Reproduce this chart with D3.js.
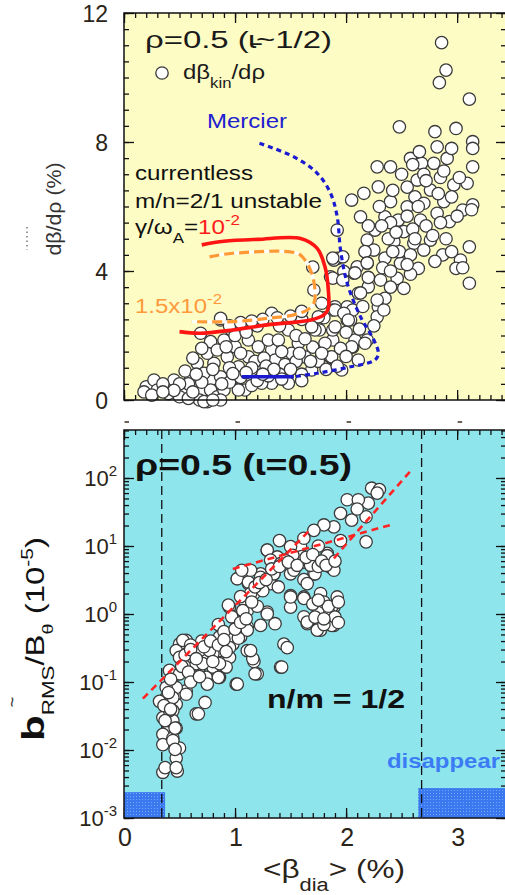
<!DOCTYPE html>
<html><head><meta charset="utf-8">
<script src="https://cdn.jsdelivr.net/npm/d3@7"></script>
<style>
body{margin:0;background:#fff}
svg{display:block}
text{font-family:"Liberation Sans",Arial,Helvetica,sans-serif}
</style>
</head><body>
<svg id="c" width="505" height="895"></svg>
<script>
// ---------------- data (top panel: dβ/dρ vs <β_dia>) ----------------
const kinPoints = [
[2.86,11.08],[2.90,10.23],[2.84,9.84],[3.11,9.33],[2.48,8.47],[2.80,8.32],[2.99,8.42],[3.14,8.01],[2.82,7.85],[3.14,7.80],
[2.28,7.23],[2.40,7.23],[2.58,7.49],[2.68,7.34],[2.79,7.34],[2.91,7.49],[3.14,7.23],[2.29,6.61],[2.16,6.41],[2.05,6.20],
[2.64,6.82],[2.76,6.51],[2.97,6.67],[3.09,6.72],[2.40,6.15],[2.55,5.99],[2.88,6.15],[3.14,6.05],[2.13,5.68],[2.35,5.68],
[2.47,5.58],[2.67,5.58],[2.82,5.79],[2.93,5.53],[3.05,5.89],[1.92,5.27],[2.26,5.27],[2.52,5.22],[2.76,4.96],[2.19,4.96],
[2.43,4.91],[2.61,4.86],[2.25,4.65],[2.70,4.65],[3.11,4.75],[1.92,4.39],[2.19,4.24],[2.49,4.24],[2.65,4.08],[2.87,4.50],
[3.03,4.34],[2.99,4.08],[3.11,3.62],[2.07,3.93],[2.31,3.72],[2.46,3.77],[2.52,3.46],[2.20,3.51],[2.35,3.15],[2.29,2.89],
[2.11,3.31],[1.89,4.34],[1.86,3.82],[1.98,3.98],[2.10,4.13],[2.01,2.89],[1.90,2.89],[2.04,2.48],[2.28,2.58],
[2.55,6.60],[2.62,6.30],[2.70,6.10],[2.85,6.90],[2.95,6.30],[3.00,5.70],[2.60,5.30],[2.72,5.40],[2.38,5.00],[2.48,4.60],
[2.58,4.50],[2.35,4.40],[2.42,6.50],[2.70,7.00],[2.78,5.10],[2.90,5.00],[2.55,5.70],[2.30,6.00],[2.20,5.40],[2.33,4.10],
[2.58,3.90],[2.17,4.60],[2.50,7.00],[2.66,7.70],[3.02,6.90],[3.13,5.90],[2.95,7.80],[2.40,5.50],
[1.97,4.44],[1.88,4.40],[1.88,3.78],[1.97,3.72],[1.70,4.12],[2.08,3.94],[2.19,4.25],[2.13,3.32],[2.28,3.10],[2.34,2.79],
[2.01,2.48],[1.88,2.79],[2.06,2.79],[2.19,1.86],[2.06,1.64],[1.88,1.86],[1.86,1.33],[1.70,1.64],[1.76,2.17],[1.88,2.17],
[1.71,3.41],[1.78,3.00],[1.80,2.55],
[0.20,0.41],[0.27,0.62],[0.30,0.31],[0.39,0.41],[0.45,0.62],[0.53,0.31],[0.60,0.72],[0.66,1.14],[0.63,0.41],[0.71,0.31],
[0.78,0.62],[0.72,0.83],[0.78,0.31],[0.84,0.10],[0.90,0.31],[0.87,0.72],[0.81,1.14],[0.75,1.45],[0.78,1.81],[0.90,1.86],
[0.87,2.48],[0.97,2.17],[0.84,1.55],[0.93,1.34],[1.00,1.65],[1.03,1.03],[0.97,0.62],[1.09,0.31],[1.12,1.86],[1.12,1.34],
[1.21,1.65],[1.22,0.98],[1.33,1.55],[1.30,1.86],[1.33,2.69],[1.39,1.86],[1.36,1.24],[1.33,0.52],[1.48,0.52],[1.48,2.17],
[1.51,1.45],[1.57,1.76],[1.63,1.34],[1.69,0.93],[1.72,2.17],[1.81,1.76],[1.87,1.34],[1.90,2.27],[1.90,2.79],[1.75,2.58],
[1.98,2.69],[2.02,2.48],[2.08,1.86],[2.05,1.65],[2.17,1.76],[2.11,1.24],[1.96,0.93],[1.69,2.27],[0.69,2.07],[0.87,2.53],
[1.03,0.31],[1.15,0.72],[1.24,0.52],[0.87,0.00],
[0.55,0.90],[0.62,0.15],[0.68,0.00],[0.75,-0.05],[0.58,0.50],[0.95,1.00],[1.05,1.45],[1.18,1.20],[1.26,1.30],[1.42,1.50],
[1.45,1.10],[1.55,1.20],[1.60,0.80],[1.40,0.80],[1.30,0.75],[1.00,2.00],[1.10,2.10],[1.20,2.30],[1.40,2.30],[1.55,2.00],
[1.63,1.90],[0.95,0.55],[1.15,0.45],[0.80,0.95],[0.70,1.60],[0.62,1.30],[0.92,1.65],[1.75,1.20],[1.82,0.95],[1.60,2.50],
[0.50,0.10],[0.40,0.20],[0.58,0.05],[0.18,0.25],[0.25,0.15],[1.05,0.70],[1.20,0.60],[0.35,0.50],
[0.95,2.30],[1.05,2.40],[1.15,2.45],[1.25,2.50],[1.38,2.55],[1.50,2.60],[1.60,2.75],[1.15,1.00],[1.28,1.05],[1.35,0.95],
[1.50,0.95],[1.58,1.45],[1.68,1.20],[1.78,1.45],[1.95,1.60],[2.00,2.10],[2.12,2.20],[1.92,1.05],[2.00,1.35],[1.10,0.85],
[0.98,0.82],[0.88,0.50],[0.70,0.55],[0.65,0.80],[0.50,0.50],[0.45,0.30],[0.35,0.25],[0.72,-0.05],[0.80,0.00],[0.62,0.25],
[1.25,0.80],[1.42,0.65],[1.60,0.60],[2.40,4.00],[2.55,4.20],[2.62,5.00],[2.85,5.50],[2.45,5.20],[2.65,6.00],[2.83,6.40],
[2.72,6.80],[2.60,7.30],[2.88,7.10],[2.32,5.40],[2.42,4.60],[2.95,4.60],[3.05,4.10],[2.80,4.30],[2.20,3.80],[2.40,3.50],
[2.15,2.90],[2.25,2.30]
];
const redCurve = [[0.70,4.81],[0.90,4.92],[1.20,4.98],[1.59,5.01],[1.74,4.70],[1.81,4.13],[1.84,3.41],[1.84,2.84],[1.80,2.64],
[1.68,2.48],[1.29,2.33],[0.98,2.17],[0.68,2.07],[0.50,2.12]];
const orangeCurve = [[0.77,4.44],[0.98,4.55],[1.56,4.55],[1.63,4.34],[1.69,3.93],[1.72,3.41],[1.71,3.00],[1.65,2.79],
[1.53,2.64],[1.29,2.53],[0.98,2.43],[0.61,2.43]];
const mercierDotted = [[1.22,7.96],[1.53,7.54],[1.74,7.03],[1.86,6.41],[1.92,5.68],[1.95,4.65],[2.01,3.62],[2.13,2.58],
[2.25,1.86],[2.29,1.45],[2.26,1.24],[2.04,1.03],[1.74,0.83],[1.53,0.72]];
const mercierSolid = [[1.06,0.72],[1.53,0.72]];
const topYTicks = [0,4,8,12];
const xTicks = [0,1,2,3];

// ---------------- data (bottom panel: b_RMS/B_θ vs <β_dia>) ----------------
const bRmsPoints = [
[2.23,70.8],[2.30,67.6],[2.01,47.9],[2.20,42.7],[2.11,47.9],[1.95,30.2],[2.05,24],[2.18,26.9],[1.89,19.1],[2.18,11.5],
[1.80,20.4],[1.71,17],[1.59,9.8],[1.29,8.7],[1.38,6.9],[1.50,6.9],[1.53,5.5],[1.71,6.2],[1.83,7.8],[1.71,3.9],
[1.86,4.9],[1.50,3.9],[1.62,3.2],[1.23,3.9],[1.11,4.4],[1.02,3.3],[1.12,2.8],[1.35,3.9],[1.32,2.8],[1.17,2.0],
[1.08,1.6],[1.29,1.07],[1.23,0.68],[1.36,0.72],[1.50,1.86],[1.50,1.26],[1.62,1.78],[1.77,2.0],[1.77,1.12],[1.68,0.81],
[1.77,0.58],[1.89,1.26],[1.89,0.68],[1.92,1.78],[1.62,0.91],[1.65,0.72],[0.95,1.26],[0.98,0.91],[1.11,1.12],[1.11,0.65],
[1.05,0.46],[0.98,0.36],[0.86,0.29],[0.80,0.36],[0.74,0.23],[0.95,0.23],[1.11,0.29],[1.17,0.20],[0.92,0.166],[0.80,0.166],
[0.68,0.166],[0.62,0.117],[0.74,0.117],[0.86,0.117],[1.01,0.093],[1.20,0.132],[0.56,0.186],[0.50,0.36],[0.47,0.29],[0.56,0.41],
[0.68,0.29],[0.62,0.23],[0.41,0.148],[0.44,0.093],[0.47,0.066],[0.38,0.059],[0.32,0.052],[0.47,0.047],[0.56,0.074],[0.44,0.038],
[0.44,0.027],[0.35,0.030],[0.47,0.021],[0.38,0.018],[0.65,0.034],[0.73,0.050],[0.35,0.017],[0.44,0.015],[0.35,0.012],[0.50,0.0107],
[0.47,0.0076],[0.35,0.0047],[0.48,0.0049],[0.53,0.148],[0.65,0.186],[0.80,0.26],[0.98,0.46],[0.86,0.186],[1.44,0.36],[1.47,0.32],
[1.41,0.166],
[1.02,3.3],[1.12,2.95],[1.14,4.4],[1.29,8.7],[1.23,3.47],[1.35,3.9],[1.39,2.5],[1.50,9.8],[1.53,4.4],[1.71,6.6],
[1.72,3.9],[1.83,7.2],[1.89,4.4],[1.65,2.8],[1.50,1.78],[1.62,1.7],[1.75,1.12],[1.77,0.81],[1.74,0.58],[1.87,1.26],
[1.87,0.68],[1.65,0.76],[1.14,2.0],[1.07,1.12],[1.29,1.0],[0.94,1.35],[0.97,0.91],[1.11,0.58],[1.03,0.44],[0.86,0.46],
[0.95,0.32],[0.77,0.29],[0.53,0.41],[0.50,0.23],[0.71,0.186],[1.16,0.22],[1.14,0.29],[1.42,0.166],[1.18,0.132],[1.02,0.093],
[0.85,0.117],[0.75,0.093],[0.62,0.123],[0.50,0.132],[0.47,0.083],[0.38,0.083],[0.44,0.059],[0.56,0.066],[0.67,0.034],[0.41,0.038],
[0.46,0.021],[0.37,0.027],[0.44,0.0138],[0.46,0.0102],[0.37,0.0055],[0.47,0.0055],[1.06,4.4],[1.32,6.2],[1.41,5.5],
[1.55,6.0],[1.58,6.5],[1.62,5.8],[1.66,6.3],[1.60,7.0],[1.52,7.3],[1.45,6.2],[1.68,5.2],[1.75,5.0],[1.20,1.3],
[1.25,2.2],[1.05,1.8],[0.85,0.7],[0.90,0.55],[0.70,0.4],[0.60,0.35],[1.80,1.5],[1.85,1.0],[1.80,0.7],[1.90,0.9],
[1.70,1.4],[1.40,12],[1.62,13],[1.75,10],[1.95,12],[2.10,35],[2.28,60],
[0.55,0.25],[0.60,0.30],[0.65,0.22],[0.72,0.33],[0.78,0.40],[0.85,0.35],[0.90,0.42],[0.92,0.28],[1.00,0.60],[1.05,0.75],
[1.10,0.85],[1.15,1.5],[1.18,2.5],[1.22,2.9],[1.28,3.2],[1.33,4.6],[1.40,5.0],[1.48,5.8],[1.56,5.2],[1.64,6.8],
[1.70,7.5],[1.78,6.0],[1.82,5.2],[1.90,6.0],[1.72,0.9],[1.80,0.85],[1.84,1.3],[1.75,1.6],[1.93,1.5],[1.93,0.75],
[0.52,0.17],[0.58,0.14],[0.60,0.10],[0.68,0.12],[0.80,0.20],[0.42,0.11],[0.40,0.07],[0.36,0.045],[0.42,0.04]
];
const fitLines = [
  [[0.17,0.057],[1.69,18.2]],
  [[0.98,4.6],[2.40,20.4]],
  [[1.89,6.6],[2.60,138]]
];
const thresholds = [0.34, 2.68];
const disappearRanges = [[0,0.37,0.0024],[2.65,3.44,0.00275]];
const botYTicks = [1e-3,1e-2,1e-1,1,10,100];
const botYExp = ["-3","-2","-1","0","1","2"];

// ---------------- drawing ----------------
const svg = d3.select("#c");
const x = d3.scaleLinear().domain([0,3.44]).range([124,506]);
const yT = d3.scaleLinear().domain([0,12]).range([400,13]);
const yB = d3.scaleLog().domain([1e-3,508]).range([818,430]);
const R = 6.2;

const defs = svg.append("defs");
const pat = defs.append("pattern").attr("id","dots").attr("width",3).attr("height",3).attr("patternUnits","userSpaceOnUse");
pat.append("rect").attr("width",3).attr("height",3).attr("fill","#3a78f0");
pat.append("rect").attr("x",1).attr("y",1).attr("width",1).attr("height",1).attr("fill","#7aa6f8");

// backgrounds
svg.append("rect").attr("x",x(0)).attr("y",yT(12)).attr("width",x(3.44)-x(0)).attr("height",yT(0)-yT(12)).attr("fill","#fdfcc4");
svg.append("rect").attr("x",x(0)).attr("y",yB(508)).attr("width",x(3.44)-x(0)).attr("height",yB(1e-3)-yB(508)).attr("fill","#8fe5ec");

const xMinor = d3.range(0,35).map(i=>i/10);
const topYMinor = d3.range(0,25).map(i=>i/2);
const logMinor = [];
[-3,-2,-1,0,1,2].forEach(e=>{for(let k=1;k<=9;k++){const v=k*Math.pow(10,e); if(v<=508) logMinor.push(v);}});

function axis(gen, tx, ty, vals, size){
  svg.append("g").attr("transform",`translate(${tx},${ty})`)
    .call(gen.tickValues(vals).tickSize(size).tickSizeOuter(0).tickFormat(""))
    .call(g=>g.select(".domain").remove())
    .selectAll("line").attr("stroke","#111").attr("stroke-width",1.3);
}
// top panel ticks
axis(d3.axisLeft(yT),124,0,topYMinor,-5);
axis(d3.axisLeft(yT),124,0,topYTicks,-10);
axis(d3.axisRight(yT),506,0,topYMinor,-5);
axis(d3.axisRight(yT),506,0,topYTicks,-10);
axis(d3.axisTop(x),0,13,xMinor,-5);
axis(d3.axisTop(x),0,13,xTicks,-10);
axis(d3.axisBottom(x),0,400,xMinor,-5);
axis(d3.axisBottom(x),0,400,xTicks,-10);
// bottom panel ticks
axis(d3.axisLeft(yB),124,0,logMinor,-5);
axis(d3.axisLeft(yB),124,0,botYTicks,-10);
axis(d3.axisRight(yB),506,0,logMinor,-5);
axis(d3.axisRight(yB),506,0,botYTicks,-10);
axis(d3.axisTop(x),0,430,xMinor,-5);
axis(d3.axisTop(x),0,430,xTicks,-10);
axis(d3.axisBottom(x),0,818,xMinor,-5);
axis(d3.axisBottom(x),0,818,xTicks,-10);

// ---- top panel marks ----
svg.append("g").selectAll("circle").data(kinPoints).join("circle")
  .attr("cx",d=>x(d[0])).attr("cy",d=>yT(d[1])).attr("r",R)
  .attr("fill","#fff").attr("stroke","#3a3a3a").attr("stroke-width",1.3);

const lineT = d3.line().x(d=>x(d[0])).y(d=>yT(d[1])).curve(d3.curveCatmullRom.alpha(0.5));
svg.append("path").attr("d",lineT(orangeCurve)).attr("fill","none").attr("stroke","#fff").attr("stroke-width",3.2);
svg.append("path").attr("d",lineT(orangeCurve)).attr("fill","none").attr("stroke","#ff9933").attr("stroke-width",3.2).attr("stroke-dasharray","10,5");
svg.append("path").attr("d",lineT(redCurve)).attr("fill","none").attr("stroke","#ff1414").attr("stroke-width",3.6);
svg.append("path").attr("d",lineT(mercierDotted)).attr("fill","none").attr("stroke","#1a1ad0").attr("stroke-width",3.2).attr("stroke-dasharray","5,4");
svg.append("path").attr("d",d3.line().x(d=>x(d[0])).y(d=>yT(d[1]))(mercierSolid)).attr("fill","none").attr("stroke","#1a1ad0").attr("stroke-width",3.4);

// frames
svg.append("rect").attr("x",124).attr("y",13).attr("width",382).attr("height",387).attr("fill","none").attr("stroke","#111").attr("stroke-width",1.5);

// top tick labels
svg.append("g").selectAll("text").data(topYTicks).join("text")
  .attr("x",108).attr("y",d=>yT(d)+9).attr("text-anchor","end").attr("font-size",23).attr("fill","#2a2418").text(d=>d);
// cut-off label marks under top panel
svg.append("g").selectAll("line").data(xTicks).join("line")
  .attr("x1",d=>x(d)+0.5).attr("x2",d=>x(d)+5).attr("y1",422).attr("y2",422).attr("stroke","#4a3a2a").attr("stroke-width",1.6);

// top texts
svg.append("text").attr("x",145).attr("y",48).attr("font-size",24).attr("fill","#1a1a1a")
  .attr("textLength",187).attr("lengthAdjust","spacingAndGlyphs").text("ρ=0.5 (ɩ̵~1/2)");
svg.append("circle").attr("cx",162).attr("cy",73).attr("r",R).attr("fill","#fff").attr("stroke","#3a3a3a").attr("stroke-width",1.3);
{
  const t = svg.append("text").attr("x",183).attr("y",79).attr("font-size",20).attr("fill","#1a1a1a")
    .attr("textLength",82).attr("lengthAdjust","spacingAndGlyphs");
  t.append("tspan").text("dβ");
  t.append("tspan").attr("font-size",14).attr("dy",9).text("kin");
  t.append("tspan").attr("dy",-9).text("/dρ");
}
svg.append("text").attr("x",207).attr("y",128).attr("font-size",20).attr("fill","#2020d0")
  .attr("textLength",80).attr("lengthAdjust","spacingAndGlyphs").text("Mercier");
svg.append("text").attr("x",135).attr("y",180).attr("font-size",20).attr("fill","#111")
  .attr("textLength",118).attr("lengthAdjust","spacingAndGlyphs").text("currentless");
svg.append("text").attr("x",135).attr("y",208).attr("font-size",20).attr("fill","#111")
  .attr("textLength",187).attr("lengthAdjust","spacingAndGlyphs").text("m/n=2/1 unstable");
{
  const t = svg.append("text").attr("x",135).attr("y",234).attr("font-size",20).attr("fill","#111")
    .attr("textLength",105).attr("lengthAdjust","spacingAndGlyphs");
  t.append("tspan").text("γ/ω");
  t.append("tspan").attr("font-size",14).attr("dy",9).text("A");
  t.append("tspan").attr("dy",-9).text("=");
  t.append("tspan").attr("fill","#ff1a1a").text("10");
  t.append("tspan").attr("fill","#ff1a1a").attr("font-size",14).attr("dy",-9).text("-2");
}
{
  const t = svg.append("text").attr("x",135).attr("y",313).attr("font-size",20).attr("fill","#ff9a3c")
    .attr("textLength",87).attr("lengthAdjust","spacingAndGlyphs");
  t.append("tspan").text("1.5x10");
  t.append("tspan").attr("font-size",14).attr("dy",-9).text("-2");
}
// top y label
svg.append("text").attr("transform","translate(61,209) rotate(-90)").attr("text-anchor","middle")
  .attr("font-size",21).attr("fill","#333").attr("textLength",93).attr("lengthAdjust","spacingAndGlyphs").text("dβ/dρ (%)");
svg.append("line").attr("x1",27).attr("x2",27).attr("y1",227).attr("y2",250).attr("stroke","#777").attr("stroke-width",1.5).attr("stroke-dasharray","1.5,3");

// ---- bottom panel marks ----
svg.append("g").selectAll("rect").data(disappearRanges).join("rect")
  .attr("x",d=>x(d[0])).attr("width",d=>x(d[1])-x(d[0]))
  .attr("y",d=>yB(d[2])).attr("height",d=>yB(1e-3)-yB(d[2])).attr("fill","url(#dots)");
svg.append("g").selectAll("line").data(thresholds).join("line")
  .attr("x1",d=>x(d)).attr("x2",d=>x(d)).attr("y1",yB(508)).attr("y2",yB(1e-3))
  .attr("stroke","#111").attr("stroke-width",1.3).attr("stroke-dasharray","9,5");

svg.append("g").selectAll("circle").data(bRmsPoints).join("circle")
  .attr("cx",d=>x(d[0])).attr("cy",d=>yB(d[1])).attr("r",R)
  .attr("fill","#fff").attr("stroke","#3a3a3a").attr("stroke-width",1.3);

const lineB = d3.line().x(d=>x(d[0])).y(d=>yB(d[1]));
svg.append("g").selectAll("path").data(fitLines).join("path")
  .attr("d",lineB).attr("fill","none").attr("stroke","#ff2424").attr("stroke-width",2.6).attr("stroke-dasharray","7,5");

svg.append("rect").attr("x",124).attr("y",430).attr("width",382).attr("height",388).attr("fill","none").attr("stroke","#111").attr("stroke-width",1.5);

// bottom tick labels
const yl = svg.append("g").selectAll("text").data(botYTicks).join("text")
  .attr("x",117).attr("y",d=>yB(d)+8).attr("text-anchor","end").attr("font-size",22).attr("fill","#2a2418");
yl.append("tspan").text("10");
yl.append("tspan").attr("font-size",15).attr("dy",-10).text((d,i)=>botYExp[i]);

svg.append("g").selectAll("text").data(xTicks).join("text")
  .attr("x",d=>x(d)+1).attr("y",846).attr("text-anchor","middle").attr("font-size",25).attr("fill","#2a2418").text(d=>d);

{
  const t = svg.append("text").attr("x",263).attr("y",878).attr("font-size",26).attr("fill","#2a2418")
    .attr("textLength",142).attr("lengthAdjust","spacingAndGlyphs");
  t.append("tspan").text("<β");
  t.append("tspan").attr("font-size",18).attr("dy",13).text("dia");
  t.append("tspan").attr("dy",-13).text("> (%)");
}
// bottom y label
{
  const t = svg.append("text").attr("transform","translate(44,741) rotate(-90)").attr("font-size",25).attr("fill","#111")
    .attr("textLength",204).attr("lengthAdjust","spacingAndGlyphs");
  t.append("tspan").attr("font-weight","bold").attr("font-size",32).text("b");
  t.append("tspan").attr("font-size",17).attr("dy",10).text("RMS");
  t.append("tspan").attr("dy",-10).text("/B");
  t.append("tspan").attr("font-size",15).attr("dy",9).text("θ");
  t.append("tspan").attr("dy",-9).text(" (10");
  t.append("tspan").attr("font-size",16).attr("dy",-11).text("-5");
  t.append("tspan").attr("dy",11).text(")");
}
svg.append("text").attr("transform","translate(18,702) rotate(-90)").attr("text-anchor","middle").attr("font-size",18).attr("fill","#333").text("~");

svg.append("text").attr("x",135).attr("y",475).attr("font-size",30).attr("font-weight","bold").attr("fill","#111")
  .attr("textLength",217).attr("lengthAdjust","spacingAndGlyphs").text("ρ=0.5 (ɩ=0.5)");
svg.append("text").attr("x",267).attr("y",708).attr("font-size",25).attr("font-weight","bold").attr("fill","#111")
  .attr("textLength",138).attr("lengthAdjust","spacingAndGlyphs").text("n/m = 1/2");
svg.append("text").attr("x",387).attr("y",768).attr("font-size",20).attr("font-weight","bold").attr("fill","#3b7cf5")
  .attr("textLength",113).attr("lengthAdjust","spacingAndGlyphs").text("disappear");
</script>
</body></html>
